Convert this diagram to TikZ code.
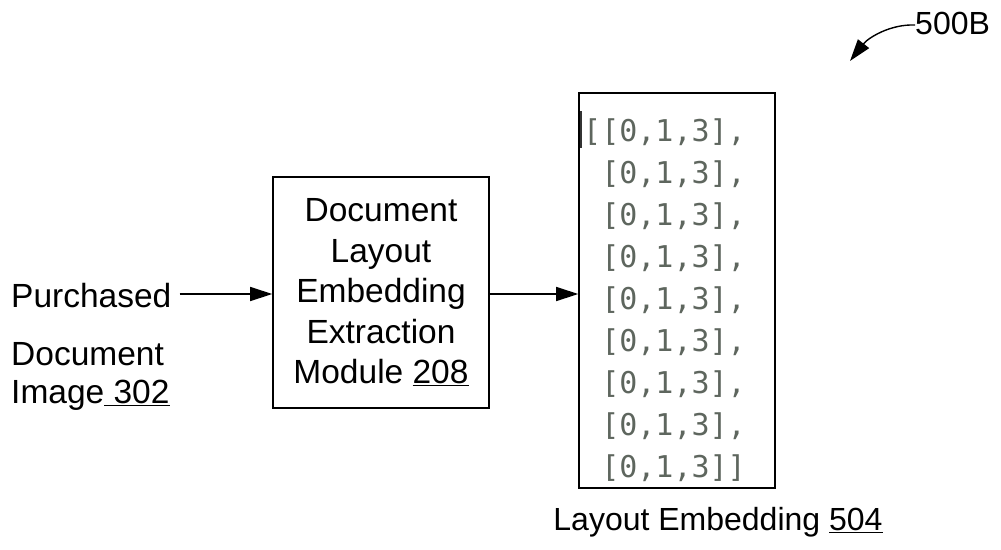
\documentclass[tikz,border=0pt]{standalone}
\usepackage{fontspec}
\setmainfont{Liberation Sans}
\newfontfamily\codefont{DejaVu Sans Mono}
\usetikzlibrary{arrows.meta}
\definecolor{codegray}{HTML}{5E665E}
\tikzset{
  lbl/.style={font=\fontsize{33.5}{40.5}\selectfont, inner sep=0pt, anchor=base west},
  blk/.style={draw, line width=1.6pt, inner sep=0pt},
  flow/.style={line width=1.6pt, -{Triangle[length=22pt,width=14pt]}},
  code/.style={font=\codefont\fontsize{30}{42}\selectfont, text=codegray, inner sep=0pt, anchor=base west}
}
\begin{document}
\begin{tikzpicture}[x=1pt,y=-1pt]
\useasboundingbox (0,0) rectangle (1001,549);

% input label
\node[lbl] (purch) at (11,307) {Purchased};
\node[lbl] (doc) at (11,365) {Document};
\node[lbl] (img) at (11,403) {Image\underline{ 302}};

% extraction module
\node[blk, minimum width=216pt, minimum height=231pt,
      font=\fontsize{33.5}{40.5}\selectfont, align=center] (mod) at (381,292.5)
  {Document\\Layout\\Embedding\\Extraction\\Module \underline{208}};

% layout embedding output
\node[blk, minimum width=196pt, minimum height=395pt] (emb) at (677,290.5) {};
\draw[line width=2pt, black!80] (581,111) -- (581,148);
\node[code] (r1) at (583,141) {[[0,1,3],};
\foreach \i in {2,...,8}{
  \node[code] (r\i) at (583,{141+42*(\i-1)}) {\hphantom{[}[0,1,3],};
}
\node[code] (r9) at (583,{141+42*8}) {\hphantom{[}[0,1,3]]};

\node[lbl, anchor=base, font=\fontsize{32}{40}\selectfont] (embl) at (718,530) {Layout Embedding \underline{504}};

% connectors
\draw[flow] (purch.east |- 0,294) ++(8,0) coordinate (p0) -- (p0 -| mod.west);
\draw[flow] (mod.east |- 0,294) -- (emb.west |- 0,294);

% figure reference
\node[lbl, font=\fontsize{32}{40}\selectfont] (ref) at (915,34) {500B};
\coordinate (reftip) at (850,61);
\draw[line width=1.4pt, -{Triangle[length=22pt,width=14pt]}]
  (ref.west |- 0,25) .. controls (890,24) and (868,38) .. (reftip);
\end{tikzpicture}
\end{document}
